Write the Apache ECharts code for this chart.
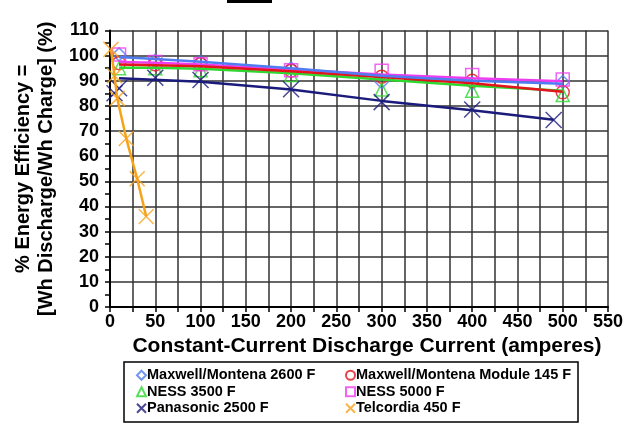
<!DOCTYPE html>
<html>
<head>
<meta charset="utf-8">
<script src="https://cdn.jsdelivr.net/npm/echarts@6/dist/echarts.min.js"></script>
<style>
  html, body { margin: 0; padding: 0; background: #fff; }
  #chart { width: 640px; height: 425px; }
</style>
</head>
<body>
<div id="chart"></div>
<script>
// 读图得到的数据 (电流 A, 效率 %)
var currents = [10, 50, 100, 200, 300, 400, 500];

var maxwell2600Pts = [100.5, 98, 97.5, 95, 89.5, 89, 89.5];
var maxwell2600Fit = [99.5, 98.7, 97.6, 95, 92, 90, 88.8];

var module145Pts = [97, 96.5, 96.6, 94, 91.6, 90, 85.4];
var module145Fit = [96.5, 96.2, 95.8, 93.8, 91.5, 89, 85.6];

var ness3500Pts = [95, 95, 94.2, 92.3, 86.5, 86, 84.3];
var ness3500Fit = [95.2, 95.2, 94.8, 93, 90.5, 88, 86];

var ness5000Pts = [100.5, 97.5, 96.6, 94.2, 94, 92.3, 90.5];
var ness5000Fit = [97.5, 97.2, 96.5, 94.5, 92.5, 91, 89.8];

var panasonicX = [5, 10, 50, 100, 200, 300, 400, 490];
var panasonicPts = [85, 87, 91.2, 90.3, 86.6, 81.5, 78.6, 74.4];
var panasonicFitX = [10, 100, 200, 300, 400, 490];
var panasonicFit = [91, 89.6, 86.5, 82, 78.3, 74.5];

var telcordiaX = [1, 5, 8, 18, 30, 40];
var telcordiaPts = [102.5, 92, 83, 67, 51, 36];

var names = ['Maxwell/Montena 2600 F', 'Maxwell/Montena Module 145 F', 'NESS 3500 F',
             'NESS 5000 F', 'Panasonic 2500 F', 'Telcordia 450 F'];

function pairs(xs, ys) {
    return xs.map(function (x, i) { return [x, ys[i]]; });
}

var xPath = 'path://M0,0L10,10M10,0L0,10';

function markers(name, xs, ys, color, symbol, size) {
    return {
        name: name,
        type: 'scatter',
        symbol: symbol,
        symbolSize: size,
        data: pairs(xs, ys),
        itemStyle: { color: 'rgba(0,0,0,0)', borderColor: color, borderWidth: 1.5 },
        z: 3
    };
}

function fitLine(name, xs, ys, color, width) {
    return {
        name: name,
        type: 'line',
        data: pairs(xs, ys),
        showSymbol: false,
        symbol: 'none',
        lineStyle: { color: color, width: width },
        itemStyle: { color: color },
        z: 4
    };
}

var cBlue = '#4f7cf0', cRed = '#e3141c', cGreen = '#2fd82f',
    cMagenta = '#f03cf0', cNavy = '#1b1b7c', cOrange = '#f7a21b';

var chart = echarts.init(document.getElementById('chart'));
var font = 'Arial, "Liberation Sans", sans-serif';
var legendText = { color: '#000', fontSize: 14.5, fontWeight: 'bold', fontFamily: font,
                   lineHeight: 16.5, padding: [0, 0, 0, -4] };

var option = {
    animation: false,
    grid: { left: 110, right: 32, top: 30.5, bottom: 118 },
    xAxis: {
        type: 'value',
        min: 0, max: 550, interval: 50,
        name: 'Constant-Current Discharge Current (amperes)',
        nameLocation: 'middle',
        nameGap: 27,
        nameTextStyle: { color: '#000', fontSize: 21, fontWeight: 'bold', fontFamily: font,
                         padding: [0, 0, 0, 16] },
        axisLine: { lineStyle: { color: '#000', width: 2 } },
        axisTick: { show: true, length: 5, lineStyle: { color: '#000', width: 1.5 } },
        minorTick: { show: true, splitNumber: 2, length: 5, lineStyle: { color: '#000', width: 1.5 } },
        axisLabel: { color: '#000', fontSize: 18, fontWeight: 'bold', fontFamily: font, margin: 6 },
        splitLine: { show: true, lineStyle: { color: '#333', width: 1.5 } },
        minorSplitLine: { show: true, lineStyle: { color: '#333', width: 1.5 } }
    },
    yAxis: {
        type: 'value',
        min: 0, max: 110, interval: 10,
        name: '% Energy Efficiency =\n[Wh Discharge/Wh Charge] (%)',
        nameLocation: 'middle',
        nameGap: 52,
        nameRotate: 90,
        nameTextStyle: { color: '#000', fontSize: 20, fontWeight: 'bold', fontFamily: font, lineHeight: 23 },
        axisLine: { lineStyle: { color: '#000', width: 2 } },
        axisTick: { show: true, length: 5, lineStyle: { color: '#000', width: 1.5 } },
        minorTick: { show: true, splitNumber: 2, length: 5, lineStyle: { color: '#000', width: 1.5 } },
        axisLabel: { color: '#000', fontSize: 18, fontWeight: 'bold', fontFamily: font, margin: 11 },
        splitLine: { show: true, lineStyle: { color: '#333', width: 1.5 } }
    },
    legend: [
        {
            orient: 'vertical',
            left: 131, top: 362,
            itemWidth: 9, itemHeight: 9, itemGap: 0,
            data: [names[0], names[2], names[4]],
            textStyle: legendText
        },
        {
            orient: 'vertical',
            left: 340, top: 362,
            itemWidth: 9, itemHeight: 9, itemGap: 0,
            data: [names[1], names[3], names[5]],
            textStyle: legendText
        }
    ],
    graphic: [
        { type: 'rect', shape: { x: 124, y: 362, width: 454, height: 60 },
          style: { fill: 'none', stroke: '#000', lineWidth: 1.5 } },
        { type: 'rect', shape: { x: 227, y: 0, width: 45, height: 3 },
          style: { fill: '#000' } }
    ],
    series: [
        markers(names[0], currents, maxwell2600Pts, cBlue, 'diamond', 13),
        markers(names[1], currents, module145Pts, cRed, 'circle', 13),
        markers(names[2], currents, ness3500Pts, cGreen, 'triangle', 13),
        markers(names[3], currents, ness5000Pts, cMagenta, 'rect', 13),
        markers(names[4], panasonicX, panasonicPts, cNavy, xPath, 16),
        markers(names[5], telcordiaX, telcordiaPts, cOrange, xPath, 15),
        fitLine(names[3], currents, ness5000Fit, cMagenta, 2.5),
        fitLine(names[2], currents, ness3500Fit, cGreen, 2.5),
        fitLine(names[1], currents, module145Fit, cRed, 2.5),
        fitLine(names[0], currents, maxwell2600Fit, cBlue, 2.5),
        fitLine(names[4], panasonicFitX, panasonicFit, cNavy, 2.5),
        fitLine(names[5], telcordiaX, telcordiaPts, cOrange, 2.5)
    ]
};
chart.setOption(option);
</script>
</body>
</html>
